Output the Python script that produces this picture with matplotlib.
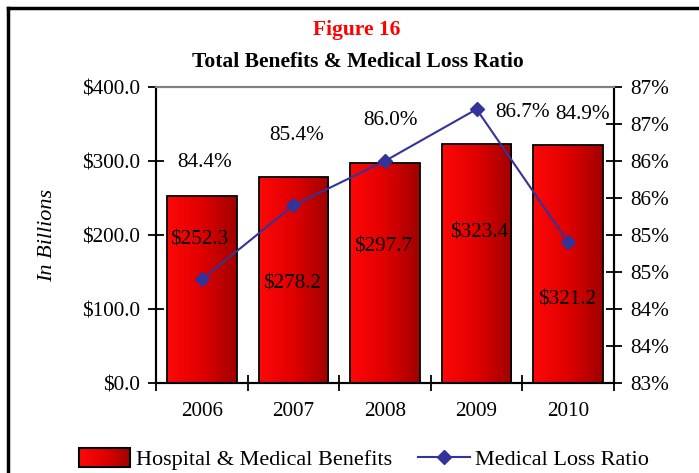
import numpy as np
import matplotlib
matplotlib.use("Agg")
import matplotlib.pyplot as plt
from matplotlib.colors import LinearSegmentedColormap
from matplotlib.patches import Rectangle
from matplotlib.lines import Line2D
from matplotlib.legend_handler import HandlerBase
from matplotlib.image import BboxImage
from matplotlib.transforms import Bbox, TransformedBbox

# ---- data ----
years = ["2006", "2007", "2008", "2009", "2010"]
benefits = [252.3, 278.2, 297.7, 323.4, 321.2]
mlr = [84.4, 85.4, 86.0, 86.7, 84.9]
left_ticks = [0, 100, 200, 300, 400]
left_labels = ["$0.0", "$100.0", "$200.0", "$300.0", "$400.0"]
right_ticks = [83.0, 83.5, 84.0, 84.5, 85.0, 85.5, 86.0, 86.5, 87.0]
right_labels = ["83%", "84%", "84%", "85%", "85%", "86%", "86%", "87%", "87%"]

# label positions (layout, in left-axis data coords)
pct_pos = [(0.035, 298), (1.04, 335), (2.055, 355), (3.50, 366), (4.16, 363)]
val_pos = [(-0.03, 193), (0.985, 134), (1.98, 184), (3.026, 203), (3.987, 112)]

plt.rcParams['font.family'] = ['Liberation Serif', 'DejaVu Serif']
FS = 15.3

cmap = LinearSegmentedColormap.from_list("redgrad", ["#FF0808", "#E00000", "#A00000"])
grad = np.linspace(0, 1, 256).reshape(1, -1)

fig = plt.figure(figsize=(6.99, 4.73), dpi=100)
ax = fig.add_axes([156/699, 1-383/473, (614-156)/699, (383-87)/473])
ax2 = ax.twinx()
ax.set_zorder(ax2.get_zorder() - 1)  # draw line above bars
ax.patch.set_visible(True)
ax2.patch.set_visible(False)

x = np.arange(len(years))
bars = ax.bar(x, benefits, width=0.76, facecolor='none', edgecolor='black', linewidth=1.3, zorder=3)
for b in bars:
    bx, by = b.get_x(), b.get_y()
    w, h = b.get_width(), b.get_height()
    im = ax.imshow(grad, cmap=cmap, extent=[bx, bx + w, by, by + h], aspect='auto', zorder=2,
                   interpolation='bicubic')
    im.set_clip_path(b)

ax.set_xlim(-0.5, 4.5)
ax.set_ylim(0, 400)
ax.set_yticks(left_ticks)
ax.set_yticklabels(left_labels, fontsize=FS)
ax.set_xticks(np.arange(-0.5, 5, 1.0))
ax.set_xticklabels([])
ax.set_xticks(x, minor=True)
ax.set_xticklabels(years, minor=True, fontsize=FS)
ax.tick_params(axis='x', which='minor', length=0, pad=14)
ax.tick_params(axis='x', which='major', direction='inout', length=11, width=1.3)
ax.tick_params(axis='y', direction='inout', length=11, width=1.3, pad=6)
ax.set_ylabel("In Billions", fontsize=16, style='italic', labelpad=18)

for sp in ['left', 'bottom', 'right']:
    ax.spines[sp].set_linewidth(1.5)
    ax2.spines[sp].set_linewidth(1.5)
ax.spines['top'].set_color('#808080')
ax2.spines['top'].set_color('#808080')
ax.spines['top'].set_linewidth(1.5)
ax2.spines['top'].set_linewidth(1.5)

ax2.plot(x, mlr, color='#333399', linewidth=1.5, marker='D', markersize=7.5,
         markerfacecolor='#333399', markeredgecolor='#333399', zorder=5)
ax2.set_ylim(83, 87)
ax2.set_yticks(right_ticks)
ax2.set_yticklabels(right_labels, fontsize=FS)
ax2.tick_params(axis='y', direction='inout', length=11, width=1.3, pad=6)

for (px, py), v in zip(pct_pos, mlr):
    ax.text(px, py, f"{v:.1f}%", ha='center', va='center', fontsize=FS, zorder=6)
for (px, py), v in zip(val_pos, benefits):
    ax.text(px, py, f"${v:.1f}", ha='center', va='center', fontsize=FS, zorder=6)

fig.text(357/699, 1-30/473, "Figure 16", ha='center', va='center', fontsize=15.5,
         fontweight='bold', color='#FF0000')
fig.text(358/699, 1-62/473, "Total Benefits & Medical Loss Ratio", ha='center', va='center',
         fontsize=15.5, fontweight='bold')

# legend with gradient patch
class GradHandler(HandlerBase):
    def create_artists(self, legend, orig_handle, xdescent, ydescent, width, height, fontsize, trans):
        bb = TransformedBbox(Bbox.from_bounds(-xdescent, -ydescent, width, height), trans)
        im = BboxImage(bb, cmap=cmap, interpolation='bicubic')
        im.set_data(grad)
        r = Rectangle((-xdescent, -ydescent), width, height, transform=trans,
                      facecolor='none', edgecolor='black', linewidth=1.5)
        return [im, r]

patch_handle = Rectangle((0, 0), 1, 1, facecolor='#E00000', edgecolor='black')
line_handle = Line2D([], [], color='#333399', linewidth=1.5, marker='D', markersize=7.5)
fig.legend([patch_handle, line_handle], ["Hospital & Medical Benefits", "Medical Loss Ratio"],
           handler_map={Rectangle: GradHandler()}, loc='center', bbox_to_anchor=(364/699, 1-459/473),
           ncol=2, frameon=False, fontsize=16, handlelength=2.3, handleheight=0.9,
           handletextpad=0.25, columnspacing=1.2, borderpad=0)

# outer border
fig.add_artist(Line2D([8/699, 8/699], [0, 1-8/473], transform=fig.transFigure, color='black', linewidth=2.5))
fig.add_artist(Line2D([8/699, 1], [1-8/473, 1-8/473], transform=fig.transFigure, color='black', linewidth=2.5))

fig.savefig("out.png", dpi=100)
